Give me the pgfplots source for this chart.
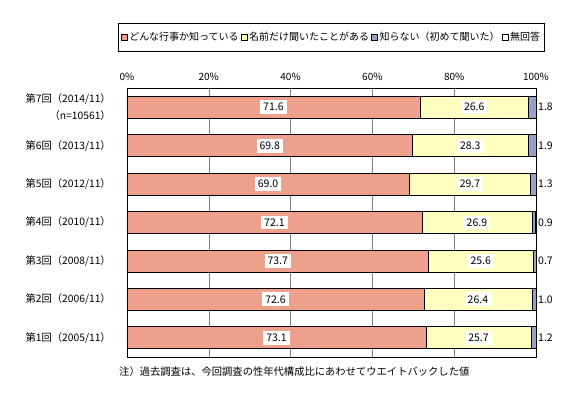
\documentclass[border=0pt]{standalone}
\usepackage{pgfplots}
\usepackage{pgfplotstable}
\pgfplotsset{compat=1.18}
\usepackage{fontspec}
\setmainfont{Noto Sans CJK JP}
\definecolor{cA}{RGB}{237,161,140}
\definecolor{cB}{RGB}{255,255,192}
\definecolor{cC}{RGB}{153,160,200}
\definecolor{cD}{RGB}{255,255,255}
\pgfplotstableread{
idx a b c d
0 71.6 26.6 1.8 0
1 69.8 28.3 1.9 0
2 69.0 29.7 1.3 0
3 72.1 26.9 0.9 0.1
4 73.7 25.6 0.7 0
5 72.6 26.4 1.0 0
6 73.1 25.7 1.2 0
}\data
\begin{document}
\begin{tikzpicture}
\path[use as bounding box] (0,0) rectangle (571pt,399pt);
\begin{axis}[
  at={(127pt,42pt)}, anchor=south west,
  scale only axis, width=409pt, height=269pt,
  xbar stacked, bar width=22pt,
  xmin=0, xmax=100, ymin=-0.5, ymax=6.5,
  y dir=reverse,
  axis line style={black, line width=0.6pt},
  xtick={0,20,40,60,80,100},
  xticklabels={0\%,20\%,40\%,60\%,80\%,100\%},
  xticklabel pos=upper,
  xmajorgrids, major grid style={gray, line width=0.6pt},
  major tick length=0pt,
  ytick={0,...,6},
  yticklabels={{第7回（2014/11）\\（n=10561）},第6回（2013/11）,第5回（2012/11）,第4回（2010/11）,第3回（2008/11）,第2回（2006/11）,第1回（2005/11）},
  yticklabel style={align=right, font=\fontsize{10.3}{16.5}\selectfont, inner sep=0pt, xshift=-16pt},
  xticklabel style={font=\fontsize{10}{11}\selectfont, inner sep=0pt, yshift=7pt},
  clip=false,
  legend style={at={(0.5,1.19)}, anchor=center, draw=black, line width=0.5pt,
    font=\fontsize{10}{11}\selectfont, legend columns=4, /tikz/every even column/.append style={column sep=0pt},
    inner xsep=2pt, inner ysep=7pt},
  legend image code/.code={\draw[#1, draw=black, line width=0.5pt] (0pt,-3pt) rectangle (6pt,3pt);},
  legend cell align=left,
  every axis plot/.append style={draw=black, line width=0.6pt},
]
\addplot[fill=cA] table[x=a, y=idx] {\data};
\addlegendentry{どんな行事か知っている}
\addplot[fill=cB] table[x=b, y=idx] {\data};
\addlegendentry{名前だけ聞いたことがある}
\addplot[fill=cC] table[x=c, y=idx] {\data};
\addlegendentry{知らない（初めて聞いた）}
\addplot[fill=cD] table[x=d, y=idx] {\data};
\addlegendentry{無回答}
\end{axis}
\begin{axis}[
  at={(127pt,42pt)}, anchor=south west,
  scale only axis, width=409pt, height=269pt,
  xmin=0, xmax=100, ymin=-0.5, ymax=6.5, y dir=reverse,
  hide axis, clip=false,
  nodes near coords, point meta=explicit,
  /pgf/number format/fixed, /pgf/number format/precision=1, /pgf/number format/fixed zerofill, /pgf/number format/assume math mode=true,
  nodes near coords style={font=\fontsize{10.5}{12}\selectfont},
]
\addplot[only marks, mark=none, nodes near coords style={anchor=center, fill=white, inner xsep=3pt, inner ysep=3pt}] table[x expr=\thisrow{a}/2, y=idx, meta=a] {\data};
\addplot[only marks, mark=none, nodes near coords style={anchor=center, fill=white, inner xsep=3pt, inner ysep=3pt}] table[x expr=\thisrow{a}+\thisrow{b}/2, y=idx, meta=b] {\data};
\addplot[only marks, mark=none, nodes near coords style={anchor=west, inner sep=0pt, xshift=2pt}] table[x expr=100, y=idx, meta=c] {\data};
\end{axis}
\node[anchor=west, font=\fontsize{10.3}{12}\selectfont, inner sep=0pt] at (119pt,27pt) {注）過去調査は、今回調査の性年代構成比にあわせてウエイトバックした値};
\end{tikzpicture}
\end{document}
